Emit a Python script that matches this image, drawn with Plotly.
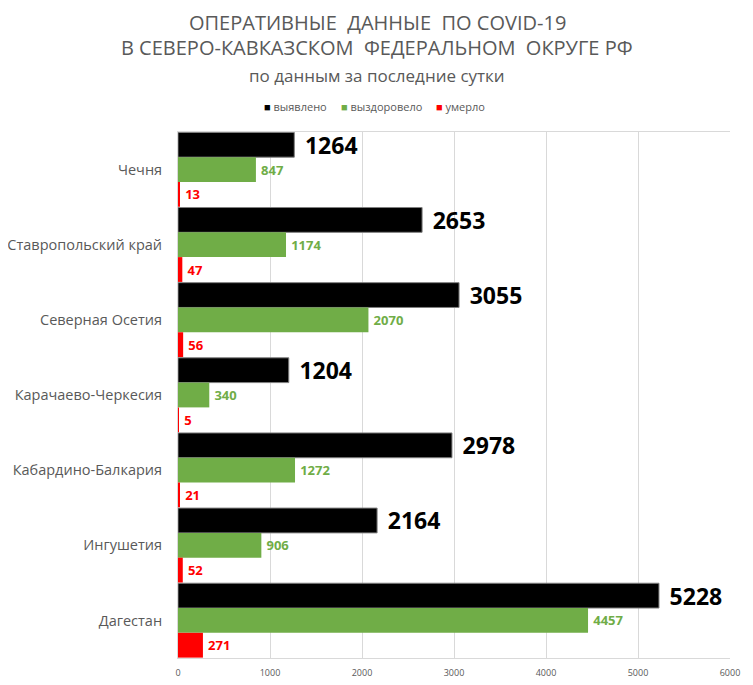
import plotly.graph_objects as go

# regions, top to bottom as in the chart
regions = ['Чечня', 'Ставропольский край', 'Северная Осетия', 'Карачаево-Черкесия',
           'Кабардино-Балкария', 'Ингушетия', 'Дагестан']
detected = [1264, 2653, 3055, 1204, 2978, 2164, 5228]
recovered = [847, 1174, 2070, 340, 1272, 906, 4457]
died = [13, 47, 56, 5, 21, 52, 271]

x_ticks = [0, 1000, 2000, 3000, 4000, 5000, 6000]

series = ['выявлено', 'выздоровело', 'умерло']
colors = ['black', '#70ad47', '#ff0000']

fnt = "Open Sans"
grey = '#595959'

# page body adds 8px, so plot box is shifted by that much
L, R, T, B = 170, 31, 124, 35
W, H = 753, 685
pw, ph = W - L - R, H - T - B


def px(x):
    return (x - 8 - L) / pw


def py(y):
    return 1 + (T - (y - 8)) / ph


fig = go.Figure()
fig.add_trace(go.Bar(
    y=regions, x=detected, name=series[0], orientation='h',
    marker=dict(color=colors[0], line=dict(color='#7f7f7f', width=1)),
    texttemplate='\u2009\u2009%{x}', textposition='outside', cliponaxis=False,
    constraintext='none',
    textfont=dict(family=fnt, size=23, color='black', weight='bold'),
))
fig.add_trace(go.Bar(
    y=regions, x=recovered, name=series[1], orientation='h',
    marker=dict(color=colors[1], line=dict(width=0)),
    texttemplate='\u2009%{x}', textposition='outside', cliponaxis=False,
    constraintext='none',
    textfont=dict(family=fnt, size=13, color=colors[1], weight='bold'),
))
fig.add_trace(go.Bar(
    y=regions, x=died, name=series[2], orientation='h',
    marker=dict(color=colors[2], line=dict(width=0)),
    texttemplate='\u2009%{x}', textposition='outside', cliponaxis=False,
    constraintext='none',
    textfont=dict(family=fnt, size=13, color=colors[2], weight='bold'),
))

title_lines = ['ОПЕРАТИВНЫЕ  ДАННЫЕ  ПО COVID-19',
               'В СЕВЕРО-КАВКАЗСКОМ  ФЕДЕРАЛЬНОМ  ОКРУГЕ РФ',
               'по данным за последние сутки']

annotations = []
for txt, yy, sz in zip(title_lines, [22, 48, 76], [20, 20, 17]):
    annotations.append(dict(
        text=txt, xref='paper', yref='paper', showarrow=False,
        x=px(377), y=py(yy), xanchor='center', yanchor='middle',
        font=dict(family=fnt, size=sz, color=grey),
    ))

# legend drawn as a row of text entries
legend_x = [262, 339, 434]
for name, col, lx in zip(series, colors, legend_x):
    annotations.append(dict(
        text=f'<span style="color:{col}">■</span> {name}',
        xref='paper', yref='paper', showarrow=False,
        x=px(lx), y=py(107), xanchor='left', yanchor='middle',
        font=dict(family=fnt, size=11, color=grey),
    ))

fig.update_layout(
    width=W, height=H,
    barmode='group', bargap=0.01, bargroupgap=0,
    paper_bgcolor='white', plot_bgcolor='white',
    margin=dict(l=L, r=R, t=T, b=B),
    font=dict(family=fnt, color=grey),
    annotations=annotations,
    showlegend=False,
    xaxis=dict(
        range=[0, 6000], tickvals=x_ticks, showgrid=True, gridcolor='#d9d9d9',
        zeroline=False, showline=True, linecolor='#d9d9d9', mirror=True,
        tickfont=dict(family=fnt, size=9, color=grey), automargin=False,
        ticklabelstandoff=6,
    ),
    yaxis=dict(
        autorange='reversed', showgrid=False, showline=True, linecolor='#d9d9d9',
        tickfont=dict(family=fnt, size=14.5, color=grey), ticklabelstandoff=12,
        automargin=False,
    ),
)

fig.write_html("out.html")
